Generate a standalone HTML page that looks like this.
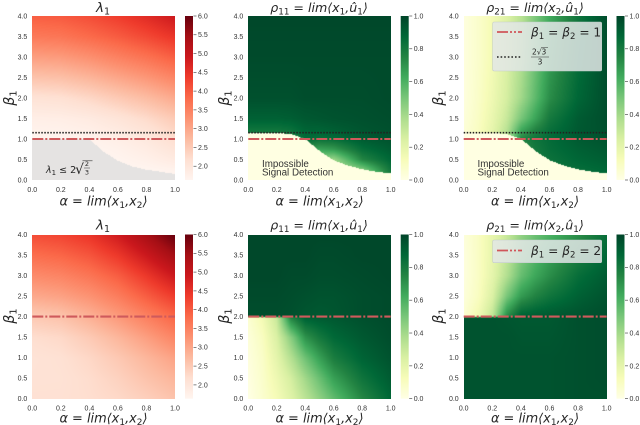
<!DOCTYPE html>
<html lang="en">
<head>
<meta charset="utf-8">
<title>Six spectral heatmaps</title>
<style>
html,body{margin:0;padding:0;background:#fff;width:640px;height:425px;overflow:hidden}
#figure{position:relative;width:640px;height:425px}
canvas{position:absolute;display:block}
svg{position:absolute;left:0;top:0;filter:blur(.3px)}
.math{font-family:"DejaVu Sans",sans-serif;font-style:italic;fill:#262626;font-size:12.6px}
.xl{font-size:12.9px}
.yl{font-size:14px}
.up{font-style:normal}
.tick{font-family:"Liberation Sans",sans-serif;font-size:7px;fill:#333}
.note{font-family:"Liberation Sans",sans-serif;font-size:9.8px;fill:#333}
</style>
</head>
<body>
<div id="figure">
<svg id="overlay" width="640" height="425" viewBox="0 0 640 425">
<defs>
<linearGradient id="redsGrad" x1="0" y1="1" x2="0" y2="0"></linearGradient>
<linearGradient id="greensGrad" x1="0" y1="1" x2="0" y2="0"></linearGradient>
</defs>
<g id="marks"></g>

<text class="math" x="103" y="12" text-anchor="middle" style="font-size:13.5px">λ<tspan class="up" font-size="9.5" dy="2.5">1</tspan></text>
<text class="math" x="319" y="12" text-anchor="middle">ρ<tspan class="up" font-size="8.8" dy="2.5">11</tspan><tspan class="up" dy="-2.5"> = </tspan>lim⟨x<tspan class="up" font-size="8.8" dy="2.5">1</tspan><tspan dy="-2.5">,û</tspan><tspan class="up" font-size="8.8" dy="2.5">1</tspan><tspan dy="-2.5">⟩</tspan></text>
<text class="math" x="535" y="12" text-anchor="middle">ρ<tspan class="up" font-size="8.8" dy="2.5">21</tspan><tspan class="up" dy="-2.5"> = </tspan>lim⟨x<tspan class="up" font-size="8.8" dy="2.5">2</tspan><tspan dy="-2.5">,û</tspan><tspan class="up" font-size="8.8" dy="2.5">1</tspan><tspan dy="-2.5">⟩</tspan></text>
<text class="math" x="103" y="229.5" text-anchor="middle" style="font-size:13.5px">λ<tspan class="up" font-size="9.5" dy="2.5">1</tspan></text>
<text class="math" x="319" y="229.5" text-anchor="middle">ρ<tspan class="up" font-size="8.8" dy="2.5">11</tspan><tspan class="up" dy="-2.5"> = </tspan>lim⟨x<tspan class="up" font-size="8.8" dy="2.5">1</tspan><tspan dy="-2.5">,û</tspan><tspan class="up" font-size="8.8" dy="2.5">1</tspan><tspan dy="-2.5">⟩</tspan></text>
<text class="math" x="535" y="229.5" text-anchor="middle">ρ<tspan class="up" font-size="8.8" dy="2.5">21</tspan><tspan class="up" dy="-2.5"> = </tspan>lim⟨x<tspan class="up" font-size="8.8" dy="2.5">2</tspan><tspan dy="-2.5">,û</tspan><tspan class="up" font-size="8.8" dy="2.5">1</tspan><tspan dy="-2.5">⟩</tspan></text>

<text class="math xl" x="103.5" y="205.5" text-anchor="middle">α<tspan class="up"> = </tspan>lim⟨x<tspan class="up" font-size="9" dy="2.5">1</tspan><tspan dy="-2.5">,x</tspan><tspan class="up" font-size="9" dy="2.5">2</tspan><tspan dy="-2.5">⟩</tspan></text>
<text class="math xl" x="319.5" y="205.5" text-anchor="middle">α<tspan class="up"> = </tspan>lim⟨x<tspan class="up" font-size="9" dy="2.5">1</tspan><tspan dy="-2.5">,x</tspan><tspan class="up" font-size="9" dy="2.5">2</tspan><tspan dy="-2.5">⟩</tspan></text>
<text class="math xl" x="535" y="205.5" text-anchor="middle">α<tspan class="up"> = </tspan>lim⟨x<tspan class="up" font-size="9" dy="2.5">1</tspan><tspan dy="-2.5">,x</tspan><tspan class="up" font-size="9" dy="2.5">2</tspan><tspan dy="-2.5">⟩</tspan></text>
<text class="math xl" x="103.5" y="422.5" text-anchor="middle">α<tspan class="up"> = </tspan>lim⟨x<tspan class="up" font-size="9" dy="2.5">1</tspan><tspan dy="-2.5">,x</tspan><tspan class="up" font-size="9" dy="2.5">2</tspan><tspan dy="-2.5">⟩</tspan></text>
<text class="math xl" x="319.5" y="422.5" text-anchor="middle">α<tspan class="up"> = </tspan>lim⟨x<tspan class="up" font-size="9" dy="2.5">1</tspan><tspan dy="-2.5">,x</tspan><tspan class="up" font-size="9" dy="2.5">2</tspan><tspan dy="-2.5">⟩</tspan></text>
<text class="math xl" x="535" y="422.5" text-anchor="middle">α<tspan class="up"> = </tspan>lim⟨x<tspan class="up" font-size="9" dy="2.5">1</tspan><tspan dy="-2.5">,x</tspan><tspan class="up" font-size="9" dy="2.5">2</tspan><tspan dy="-2.5">⟩</tspan></text>

<text class="math yl" transform="translate(14,98) rotate(-90)" text-anchor="middle">β<tspan class="up" font-size="10" dy="2.5">1</tspan></text>
<text class="math yl" transform="translate(229,98) rotate(-90)" text-anchor="middle">β<tspan class="up" font-size="10" dy="2.5">1</tspan></text>
<text class="math yl" transform="translate(443,98) rotate(-90)" text-anchor="middle">β<tspan class="up" font-size="10" dy="2.5">1</tspan></text>
<text class="math yl" transform="translate(14,316) rotate(-90)" text-anchor="middle">β<tspan class="up" font-size="10" dy="2.5">1</tspan></text>
<text class="math yl" transform="translate(229,316) rotate(-90)" text-anchor="middle">β<tspan class="up" font-size="10" dy="2.5">1</tspan></text>
<text class="math yl" transform="translate(443,316) rotate(-90)" text-anchor="middle">β<tspan class="up" font-size="10" dy="2.5">1</tspan></text>

<g>
<text class="math" x="46" y="173" style="font-size:9.5px">λ<tspan class="up" font-size="7" dy="2">1</tspan><tspan class="up" dy="-2"> ≤ 2</tspan></text>
<text class="math up" x="75" y="174" style="font-size:14px;font-style:normal">√</text>
<line x1="82.5" y1="160.8" x2="92.5" y2="160.8" stroke="#333" stroke-width=".6"/>
<text class="math up" x="87" y="166" text-anchor="middle" style="font-size:6.5px;font-style:normal">2</text>
<line x1="84" y1="168" x2="90" y2="168" stroke="#333" stroke-width=".5"/>
<text class="math up" x="87" y="174.5" text-anchor="middle" style="font-size:6.5px;font-style:normal">3</text>
</g>
<g>
<text class="note" x="262" y="167">Impossible</text>
<text class="note" x="262" y="175.5">Signal Detection</text>
</g>
<g>
<text class="note" x="477.5" y="167">Impossible</text>
<text class="note" x="477.5" y="175.5">Signal Detection</text>
</g>

<g>
<rect x="492.7" y="22" width="109" height="49" rx="1.5" fill="#e2e7e7" fill-opacity=".86" stroke="#c4cccb" stroke-width=".6"/>
<line x1="497" y1="32" x2="522" y2="32" stroke="#d0565a" stroke-width="1.8" stroke-dasharray="11 2 2 2 2 2"/>
<text class="math" x="531" y="36.5" style="font-size:12.2px">β<tspan class="up" font-size="8.6" dy="2.5">1</tspan><tspan class="up" dy="-2.5"> = </tspan>β<tspan class="up" font-size="8.6" dy="2.5">2</tspan><tspan class="up" dy="-2.5"> = 1</tspan></text>
<line x1="497" y1="57" x2="522" y2="57" stroke="#222" stroke-width="1.5" stroke-dasharray="1.6 2"/>
<g>
<text class="math up" x="532" y="54.5" style="font-size:7.5px;font-style:normal">2√3</text>
<line x1="541" y1="47.5" x2="548" y2="47.5" stroke="#333" stroke-width=".5"/>
<line x1="531" y1="57" x2="549" y2="57" stroke="#333" stroke-width=".6"/>
<text class="math up" x="540" y="64.5" text-anchor="middle" style="font-size:7.5px;font-style:normal">3</text>
</g>
</g>
<g>
<rect x="492.7" y="240" width="109" height="22.7" rx="1.5" fill="#e2e7e7" fill-opacity=".86" stroke="#c4cccb" stroke-width=".6"/>
<line x1="497" y1="250.5" x2="522" y2="250.5" stroke="#d0565a" stroke-width="1.8" stroke-dasharray="11 2 2 2 2 2"/>
<text class="math" x="531" y="255" style="font-size:12.2px">β<tspan class="up" font-size="8.6" dy="2.5">1</tspan><tspan class="up" dy="-2.5"> = </tspan>β<tspan class="up" font-size="8.6" dy="2.5">2</tspan><tspan class="up" dy="-2.5"> = 2</tspan></text>
</g>
</svg>
</div>
<script>
// ---- axis ticks and colour scales ----
const xTicks = ["0.0","0.2","0.4","0.6","0.8","1.0"];
const yTicks = ["0.0","0.5","1.0","1.5","2.0","2.5","3.0","3.5","4.0"];
const lambdaBarTicks = ["2.0","2.5","3.0","3.5","4.0","4.5","5.0","5.5","6.0"];
const rhoBarTicks = ["0.0","0.2","0.4","0.6","0.8","1.0"];
const lambdaRange = [1.633, 6.0];
const rhoRange = [0, 1];
const redsStops = ["#fff5f0","#fee0d2","#fcbba1","#fc9272","#fb6a4a","#ef3b2c","#cb181d","#a50f15","#67000d"];
const greensStops = ["#ffffe5","#f7fcb9","#d9f0a3","#addd8e","#78c679","#41ab5d","#238443","#006837","#004529"];

// ---- reference lines ----
const referenceTop = [1.0];
const thresholdTop = [1.155];
const referenceBottom = [2.0];

// ---- detection boundary (top row), beta read at each alpha ----
const boundaryAlpha = [0,0.1,0.2,0.3,0.4,0.5,0.6,0.7,0.8,0.9,1.0];
const boundaryLambda = [1.0,1.0,1.0,1.0,1.0,0.69,0.47,0.33,0.25,0.2,0.146];
const boundaryRho = [1.155,1.155,1.15,1.12,1.0,0.71,0.48,0.35,0.26,0.2,0.16];

// ---- grid coordinates ----
const alphaGrid = [0,0.2,0.4,0.6,0.8,1.0];
const alphaGridFine = [0,0.1,0.2,0.3,0.4,0.5,0.6,0.8,1.0];
const betaGridLambdaTop = [0,0.25,0.5,0.75,1,1.5,2,2.5,3,3.5,4];
const betaGridRhoTop = [0,0.25,0.5,0.75,1,1.16,1.5,2,3,4];
const betaGridBottom = [0,0.5,1,1.5,1.98,2.02,2.5,3,3.5,4];

// ---- values per panel: rows run beta low to high, columns alpha low to high ----
const lambdaTop = [
 [1.63,1.63,1.63,1.63,1.63,1.63],
 [1.63,1.63,1.63,1.63,1.64,1.7],
 [1.63,1.63,1.63,1.66,1.75,1.9],
 [1.63,1.63,1.64,1.72,1.85,2.05],
 [1.65,1.66,1.7,1.8,1.95,2.2],
 [1.8,1.82,1.9,2.05,2.25,2.5],
 [2.1,2.15,2.3,2.5,2.7,2.95],
 [2.6,2.65,2.8,3.0,3.2,3.45],
 [3.1,3.15,3.3,3.5,3.7,3.95],
 [3.6,3.65,3.8,3.98,4.2,4.45],
 [3.95,4.0,4.15,4.35,4.6,4.9]
];
const rho11Top = [
 [0.4,0.4,0.4,0.4,0.4,0.4,0.35,0.45,0.75],
 [0.4,0.4,0.4,0.4,0.4,0.4,0.35,0.48,0.82],
 [0.4,0.4,0.4,0.4,0.55,0.45,0.42,0.75,0.88],
 [0.5,0.5,0.5,0.5,0.72,0.65,0.68,0.85,0.92],
 [0.7,0.7,0.7,0.75,0.86,0.84,0.85,0.92,0.95],
 [0.8,0.8,0.8,0.82,0.88,0.88,0.9,0.94,0.96],
 [0.9,0.9,0.9,0.91,0.93,0.94,0.95,0.96,0.97],
 [0.96,0.96,0.96,0.96,0.97,0.97,0.97,0.97,0.98],
 [0.98,0.98,0.98,0.98,0.98,0.98,0.98,0.98,0.98],
 [0.99,0.99,0.99,0.99,0.99,0.99,0.99,0.99,0.99]
];
const rho21Top = [
 [0,0,0,0,0,0.8,0.82,0.86,0.88],
 [0,0,0,0,0,0.8,0.82,0.85,0.88],
 [0,0,0,0,0.75,0.8,0.83,0.88,0.91],
 [0,0,0,0.6,0.72,0.8,0.85,0.9,0.93],
 [0.04,0.1,0.2,0.35,0.75,0.82,0.86,0.92,0.95],
 [0.04,0.1,0.2,0.35,0.66,0.78,0.85,0.93,0.96],
 [0.03,0.09,0.18,0.3,0.5,0.65,0.8,0.92,0.97],
 [0.02,0.08,0.16,0.26,0.4,0.56,0.72,0.88,0.97],
 [0.02,0.07,0.14,0.24,0.36,0.52,0.67,0.85,0.97],
 [0.02,0.07,0.14,0.23,0.34,0.49,0.63,0.82,0.97]
];
const lambdaBottom = [
 [2.15,2.15,2.2,2.28,2.42,2.6],
 [2.12,2.13,2.22,2.38,2.6,2.8],
 [2.1,2.15,2.3,2.52,2.78,3.05],
 [2.2,2.28,2.5,2.78,3.1,3.45],
 [2.5,2.6,2.85,3.15,3.5,3.85],
 [2.5,2.6,2.85,3.15,3.5,3.85],
 [2.95,3.05,3.25,3.55,3.95,4.35],
 [3.35,3.45,3.65,3.95,4.4,4.9],
 [3.75,3.85,4.05,4.4,4.9,5.45],
 [4.15,4.25,4.45,4.85,5.4,6.0]
];
const rho11Bottom = [
 [0,0.06,0.13,0.22,0.33,0.44,0.55,0.74,0.88],
 [0.01,0.07,0.16,0.26,0.4,0.53,0.66,0.82,0.92],
 [0.02,0.08,0.2,0.35,0.52,0.66,0.78,0.89,0.95],
 [0.03,0.1,0.24,0.46,0.7,0.8,0.87,0.93,0.97],
 [0.05,0.14,0.3,0.75,0.9,0.92,0.93,0.96,0.98],
 [0.97,0.97,0.97,0.96,0.94,0.93,0.94,0.97,0.98],
 [0.98,0.98,0.98,0.97,0.96,0.95,0.95,0.97,0.98],
 [0.99,0.99,0.99,0.98,0.98,0.97,0.97,0.98,0.99],
 [0.99,0.99,0.99,0.99,0.99,0.98,0.98,0.99,0.99],
 [0.99,0.99,0.99,0.99,0.99,0.99,0.99,0.99,0.99]
];
const rho21Bottom = [
 [0.95,0.95,0.95,0.95,0.95,0.95,0.95,0.96,0.96],
 [0.95,0.95,0.95,0.95,0.95,0.95,0.95,0.96,0.97],
 [0.95,0.95,0.95,0.95,0.95,0.95,0.95,0.96,0.97],
 [0.95,0.95,0.95,0.95,0.94,0.94,0.94,0.96,0.97],
 [0.95,0.95,0.95,0.94,0.93,0.93,0.93,0.96,0.97],
 [0.05,0.15,0.32,0.72,0.9,0.92,0.93,0.95,0.97],
 [0.03,0.1,0.24,0.5,0.68,0.76,0.82,0.9,0.95],
 [0.02,0.09,0.2,0.36,0.54,0.64,0.72,0.85,0.92],
 [0.02,0.09,0.19,0.32,0.48,0.58,0.66,0.78,0.88],
 [0.03,0.09,0.19,0.3,0.44,0.53,0.6,0.72,0.85]
];

// ---- panel frames ----
const SVGNS = "http://www.w3.org/2000/svg";
const marks = document.getElementById("marks");
const figure = document.getElementById("figure");

function hexToRgb(h){return [parseInt(h.substr(1,2),16),parseInt(h.substr(3,2),16),parseInt(h.substr(5,2),16)];}
function colorAt(stops,t){
  t=Math.max(0,Math.min(1,t));
  const p=t*(stops.length-1),i=Math.min(stops.length-2,Math.floor(p)),f=p-i;
  const a=hexToRgb(stops[i]),b=hexToRgb(stops[i+1]);
  return [a[0]+(b[0]-a[0])*f,a[1]+(b[1]-a[1])*f,a[2]+(b[2]-a[2])*f];
}
function locate(grid,v){
  let i=0;
  while(i<grid.length-2&&v>grid[i+1])i++;
  return [i,(v-grid[i])/(grid[i+1]-grid[i])];
}
function sample(values,alphas,betas,alpha,beta){
  const c=locate(alphas,alpha),r=locate(betas,beta);
  const a=values[r[0]][c[0]],b=values[r[0]][c[0]+1],d=values[r[0]+1][c[0]],e=values[r[0]+1][c[0]+1];
  return (a*(1-c[1])+b*c[1])*(1-r[1])+(d*(1-c[1])+e*c[1])*r[1];
}
function boundaryAt(arr,alpha){
  const c=locate(boundaryAlpha,alpha);
  return arr[c[0]]+(arr[c[0]+1]-arr[c[0]])*c[1];
}
function addText(parent,cls,x,y,anchor,content){
  const t=document.createElementNS(SVGNS,"text");
  t.setAttribute("class",cls);
  t.setAttribute("x",x);
  t.setAttribute("y",y);
  t.setAttribute("text-anchor",anchor);
  t.textContent=content;
  parent.appendChild(t);
  return t;
}

function fillGradient(id,stops){
  const g=document.getElementById(id);
  stops.forEach(function(c,i){
    const s=document.createElementNS(SVGNS,"stop");
    s.setAttribute("offset",i/(stops.length-1));
    s.setAttribute("stop-color",c);
    g.appendChild(s);
  });
}
fillGradient("redsGrad",redsStops);
fillGradient("greensGrad",greensStops);

function drawPanel(p){
  const xScale=function(a){return p.x0+(p.x1-p.x0)*a;};
  const yScale=function(b){return p.y1-(p.y1-p.y0)*b/4;};
  const cv=document.createElement("canvas");
  
  
  const W=Math.round(p.x1-p.x0),H=Math.round(p.y1-p.y0);
  cv.width=W;cv.height=H;
  cv.style.left=p.x0+"px";cv.style.top=p.y0+"px";
  cv.style.width=(p.x1-p.x0)+"px";cv.style.height=(p.y1-p.y0)+"px";
  figure.insertBefore(cv,figure.firstChild);
  const ctx=cv.getContext("2d"),img=ctx.createImageData(W,H);
  for(let j=0;j<H;j++){
    for(let i=0;i<W;i++){
      const alpha=(i+.5)/W,beta=4*(1-(j+.5)/H);
      let col;
      if(p.boundary&&beta<boundaryAt(p.boundary,alpha)){col=p.floor;}
      else{
        const v=sample(p.values,p.alphas,p.betas,alpha,beta);
        col=colorAt(p.stops,(v-p.range[0])/(p.range[1]-p.range[0]));
      }
      const k=(j*W+i)*4;
      img.data[k]=col[0];img.data[k+1]=col[1];img.data[k+2]=col[2];img.data[k+3]=255;
    }
  }
  ctx.putImageData(img,0,0);

  xTicks.forEach(function(lbl){
    const t=addText(marks,"tick",xScale(parseFloat(lbl)),p.y1+11.8,"middle",lbl);
    
    
  });
  yTicks.forEach(function(lbl){
    const t=addText(marks,"tick",p.x0-5,yScale(parseFloat(lbl))+2.4,"end",lbl);
    
    
  });

  p.refs.forEach(function(b){
    const l=document.createElementNS(SVGNS,"line");
    
    
    l.setAttribute("x1",p.x0);l.setAttribute("x2",p.x1);
    l.setAttribute("y1",yScale(b));l.setAttribute("y2",yScale(b));
    l.setAttribute("stroke","#cf5a5c");l.setAttribute("stroke-width","2.1");
    l.setAttribute("stroke-dasharray","11 2 2 2");
    marks.appendChild(l);
  });
  p.dots.forEach(function(b){
    const l=document.createElementNS(SVGNS,"line");
    
    
    l.setAttribute("x1",p.x0);l.setAttribute("x2",p.x1);
    l.setAttribute("y1",yScale(b));l.setAttribute("y2",yScale(b));
    l.setAttribute("stroke","#222");l.setAttribute("stroke-width","1.6");
    l.setAttribute("stroke-dasharray","1.5 1.5");
    marks.appendChild(l);
  });

  const bar=document.createElementNS(SVGNS,"rect");
  
  
  bar.setAttribute("x",p.cb);bar.setAttribute("y",p.y0);
  bar.setAttribute("width",8);bar.setAttribute("height",p.y1-p.y0);
  bar.setAttribute("fill","url(#"+p.grad+")");
  marks.appendChild(bar);
  p.barTicks.forEach(function(lbl){
    const v=parseFloat(lbl);
    const y=p.y1-(p.y1-p.y0)*(v-p.range[0])/(p.range[1]-p.range[0]);
    const tk=document.createElementNS(SVGNS,"line");
    
    
    tk.setAttribute("x1",p.cb+8.5);tk.setAttribute("x2",p.cb+11.5);
    tk.setAttribute("y1",y);tk.setAttribute("y2",y);
    tk.setAttribute("stroke","#333");tk.setAttribute("stroke-width",".6");
    marks.appendChild(tk);
    const t=addText(marks,"tick",p.cb+13,y+2.4,"start",lbl);
    
    
  });
}

const grey=[229,227,226], pale=[255,255,226];
drawPanel({name:"lambda-top",x0:32.3,x1:175,y0:16,y1:180,cb:185,values:lambdaTop,alphas:alphaGrid,betas:betaGridLambdaTop,stops:redsStops,range:lambdaRange,grad:"redsGrad",barTicks:lambdaBarTicks,boundary:boundaryLambda,floor:grey,refs:referenceTop,dots:thresholdTop});
drawPanel({name:"rho11-top",x0:248.3,x1:390.7,y0:16,y1:180,cb:400.7,values:rho11Top,alphas:alphaGridFine,betas:betaGridRhoTop,stops:greensStops,range:rhoRange,grad:"greensGrad",barTicks:rhoBarTicks,boundary:boundaryRho,floor:pale,refs:referenceTop,dots:thresholdTop});
drawPanel({name:"rho21-top",x0:463.7,x1:606.7,y0:16,y1:180,cb:616.5,values:rho21Top,alphas:alphaGridFine,betas:betaGridRhoTop,stops:greensStops,range:rhoRange,grad:"greensGrad",barTicks:rhoBarTicks,boundary:boundaryRho,floor:pale,refs:referenceTop,dots:thresholdTop});
drawPanel({name:"lambda-bottom",x0:32.3,x1:175,y0:234.5,y1:398.7,cb:185,values:lambdaBottom,alphas:alphaGrid,betas:betaGridBottom,stops:redsStops,range:lambdaRange,grad:"redsGrad",barTicks:lambdaBarTicks,boundary:null,floor:null,refs:referenceBottom,dots:[]});
drawPanel({name:"rho11-bottom",x0:248.3,x1:390.7,y0:234.5,y1:398.7,cb:400.7,values:rho11Bottom,alphas:alphaGridFine,betas:betaGridBottom,stops:greensStops,range:rhoRange,grad:"greensGrad",barTicks:rhoBarTicks,boundary:null,floor:null,refs:referenceBottom,dots:[]});
drawPanel({name:"rho21-bottom",x0:463.7,x1:606.7,y0:234.5,y1:398.7,cb:616.5,values:rho21Bottom,alphas:alphaGridFine,betas:betaGridBottom,stops:greensStops,range:rhoRange,grad:"greensGrad",barTicks:rhoBarTicks,boundary:null,floor:null,refs:referenceBottom,dots:[]});
</script>
</body>
</html>
